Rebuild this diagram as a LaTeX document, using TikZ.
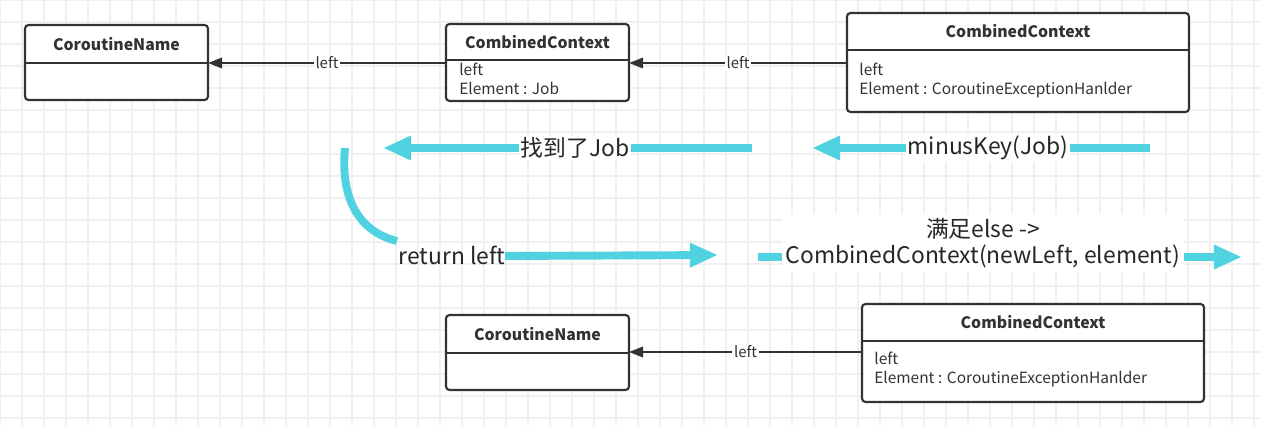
\documentclass[tikz,border=0pt]{standalone}
\usepackage{fontspec}
\setmainfont{Noto Sans CJK SC}
\usetikzlibrary{arrows.meta}
\definecolor{flow}{RGB}{80,210,225}
\definecolor{edge}{RGB}{50,50,50}
\begin{document}
\begin{tikzpicture}[x=0.02cm,y=-0.02cm,
    classbox/.style ={draw=edge, line width=1.2pt, rounded corners=2pt},
    title/.style ={font=\bfseries\fontsize{9}{11}\selectfont, text=edge},
    field/.style ={font=\fontsize{8.8}{10.5}\selectfont, text=edge, align=left, anchor=north west, inner sep=0pt},
    link/.style ={draw=edge, line width=1pt, -{Triangle[length=8pt,width=6pt]}},
    linklabel/.style ={fill=white, font=\fontsize{8.5}{10}\selectfont, text=edge, inner sep=1pt},
    flow/.style ={draw=flow, line width=4.5pt, -{Triangle[length=16pt,width=13pt]}},
    flowlabel/.style ={fill=white, font=\fontsize{13}{15}\selectfont, text=black!85, inner sep=1pt},
    gridline/.style ={draw=black!6, line width=0.6pt}]
   \useasboundingbox (0,0) rectangle (1261,426);
   % grid
   \foreach \gx in {0,22,...,1260} \draw[gridline] (\gx,0) -- (\gx,426);
   \foreach \gy in {0,22,...,426} \draw[gridline] (0,\gy) -- (1261,\gy);

   % classes
   \draw[classbox, fill=white] (25,25) rectangle (208,100);
   \draw[edge, line width=1pt] (25,63) -- (208,63);
   \node[title] (nameA) at (116.5,44) {CoroutineName};

   \draw[classbox, fill=white] (446,24) rectangle (629,101);
   \draw[edge, line width=1pt] (446,60) -- (629,60);
   \node[title] (ctxA) at (537.5,42) {CombinedContext};
   \node[field] (ctxAf) at (459,63) {left\\Element : Job};

   \draw[classbox, fill=white] (847,13) rectangle (1189,112);
   \draw[edge, line width=1pt] (847,50) -- (1189,50);
   \node[title] (ctxB) at (1018,31) {CombinedContext};
   \node[field] (ctxBf) at (859,63) {left\\Element : CoroutineExceptionHanlder};

   \draw[classbox, fill=white] (446,315) rectangle (629,390);
   \draw[edge, line width=1pt] (446,353) -- (629,353);
   \node[title] (nameB) at (537.5,334) {CoroutineName};

   \draw[classbox, fill=white] (862,304) rectangle (1204,402);
   \draw[edge, line width=1pt] (862,341) -- (1204,341);
   \node[title] (ctxC) at (1033,322) {CombinedContext};
   \node[field] (ctxCf) at (874,352) {left\\Element : CoroutineExceptionHanlder};

   % anchors for links
   \coordinate (a1) at (208,63);  \coordinate (a2) at (446,63);
   \coordinate (b1) at (629,63);  \coordinate (b2) at (847,63);
   \coordinate (c1) at (629,352); \coordinate (c2) at (862,352);
   \draw[link] (a2) -- node[linklabel, pos=0.5] {left} (a1);
   \draw[link] (b2) -- node[linklabel, pos=0.5] {left} (b1);
   \draw[link] (c2) -- node[linklabel, pos=0.5] {left} (c1);

   % flow arrows
   \coordinate (f1s) at (752,148);  \coordinate (f1e) at (383,148);
   \coordinate (f2s) at (1150,148); \coordinate (f2e) at (812,148);
   \coordinate (f3s) at (345,148);  \coordinate (f3e) at (397,241);
   \coordinate (f4s) at (505,256);  \coordinate (f4e) at (718,255);
   \coordinate (f5s) at (758,257);  \coordinate (f5e) at (1242,257);
   \draw[flow] (f1s) -- node[flowlabel, pos=0.48] {找到了Job} (f1e);
   \draw[flow] (f2s) -- node[flowlabel, pos=0.48] {minusKey(Job)} (f2e);
   \draw[draw=flow, line width=4.5pt] (f3s) .. controls (340,200) and (360,232) .. (f3e);
   \draw[flow] (f4s) -- (f4e);
   \node[flowlabel, fill=none] (ret) at (452,255) {return left};
   \draw[flow] (f5s) -- (f5e);
   \node[flowlabel, align=center, inner sep=2pt] (els) at (983,243) {满足else ->\\CombinedContext(newLeft, element)};
 \end{tikzpicture}
\end{document}
